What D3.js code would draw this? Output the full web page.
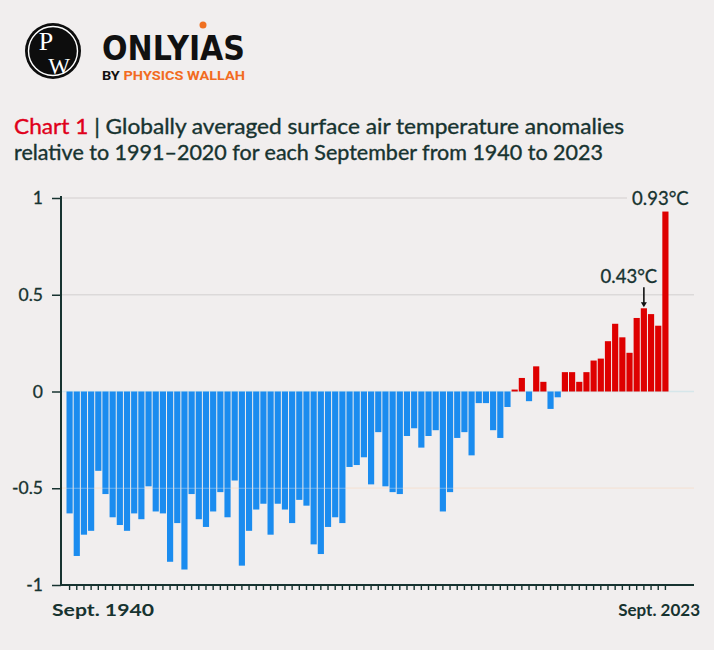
<!DOCTYPE html>
<html><head><meta charset="utf-8">
<script src="https://cdn.jsdelivr.net/npm/d3@7"></script>
<style>html,body{margin:0;padding:0;background:#f1eeee;} svg{display:block;}</style>
</head><body>
<svg id="chart" width="714" height="650"></svg>
<script>
// ---- data ----
const years = [1940,1941,1942,1943,1944,1945,1946,1947,1948,1949,
  1950,1951,1952,1953,1954,1955,1956,1957,1958,1959,
  1960,1961,1962,1963,1964,1965,1966,1967,1968,1969,
  1970,1971,1972,1973,1974,1975,1976,1977,1978,1979,
  1980,1981,1982,1983,1984,1985,1986,1987,1988,1989,
  1990,1991,1992,1993,1994,1995,1996,1997,1998,1999,
  2000,2001,2002,2003,2004,2005,2006,2007,2008,2009,
  2010,2011,2012,2013,2014,2015,2016,2017,2018,2019,
  2020,2021,2022,2023];
const anomalies = [-0.63,-0.85,-0.74,-0.72,-0.41,-0.53,-0.65,-0.69,-0.72,-0.63,
  -0.66,-0.49,-0.62,-0.63,-0.88,-0.68,-0.92,-0.53,-0.66,-0.70,
  -0.62,-0.52,-0.65,-0.46,-0.90,-0.72,-0.61,-0.58,-0.74,-0.58,
  -0.61,-0.68,-0.56,-0.59,-0.79,-0.84,-0.70,-0.65,-0.68,-0.39,
  -0.38,-0.34,-0.48,-0.21,-0.49,-0.52,-0.53,-0.23,-0.19,-0.29,
  -0.23,-0.20,-0.62,-0.52,-0.24,-0.21,-0.33,-0.06,-0.06,-0.20,
  -0.24,-0.08,0.01,0.07,-0.05,0.13,0.05,-0.09,-0.03,0.10,
  0.10,0.05,0.10,0.16,0.17,0.26,0.35,0.28,0.20,0.38,
  0.43,0.40,0.34,0.93];
const yTicks = [1, 0.5, 0, -0.5, -1];
const yTickLabels = ["1", "0.5", "0", "-0.5", "-1"];
const xEndLabels = ["Sept. 1940", "Sept. 2023"];
const annotYears = [2023, 2020];
const annotTexts = ["0.93°C", "0.43°C"];
const titleRed = "Chart 1";
const titleLine1 = "| Globally averaged surface air temperature anomalies";
const titleLine2 = "relative to 1991–2020 for each September from 1940 to 2023";

// ---- drawing ----
(function () {
const data = years.map((yr, i) => ({year: yr, value: anomalies[i]}));
const svg = d3.select("#chart");
const BG = "#f1eeee", INK = "#173330", BLUE = "#1b8cef", RED = "#de0000";
svg.append("rect").attr("width", 714).attr("height", 650).attr("fill", BG);

// logo
const logo = svg.append("g");
logo.append("circle").attr("cx", 53).attr("cy", 51).attr("r", 28).attr("fill", "#0d0d0d");
logo.append("circle").attr("cx", 53).attr("cy", 51).attr("r", 24.5).attr("fill", "none")
  .attr("stroke", "#fff").attr("stroke-width", 1.4);
logo.append("text").attr("x", 46).attr("y", 50).attr("text-anchor", "middle")
  .attr("font-family", "Liberation Serif, DejaVu Serif, serif").attr("font-size", 26)
  .attr("fill", "#fff").text("P");
logo.append("text").attr("x", 59).attr("y", 74).attr("text-anchor", "middle")
  .attr("font-family", "Liberation Serif, DejaVu Serif, serif").attr("font-size", 23)
  .attr("fill", "#fff").text("W");
logo.append("text").attr("x", 102).attr("y", 60)
  .attr("font-family", "DejaVu Sans, sans-serif").attr("font-weight", 700).attr("font-size", 34)
  .attr("textLength", 143).attr("lengthAdjust", "spacingAndGlyphs")
  .attr("fill", "#111").text("ONLYIAS");
logo.append("circle").attr("cx", 203).attr("cy", 25).attr("r", 3.5).attr("fill", "#f07020");
const by = logo.append("text").attr("x", 102).attr("y", 80)
  .attr("font-family", "Roboto, sans-serif").attr("font-weight", 700).attr("font-size", 12)
  .attr("textLength", 143).attr("lengthAdjust", "spacingAndGlyphs");
by.append("tspan").attr("fill", "#111").text("BY ");
by.append("tspan").attr("fill", "#f26b21").text("PHYSICS WALLAH");

// title
const t1 = svg.append("text").attr("x", 14).attr("y", 134)
  .attr("font-family", "Lato, sans-serif").attr("font-size", 20.5)
  .attr("stroke-width", 0.35)
  .attr("textLength", 610).attr("lengthAdjust", "spacingAndGlyphs");
t1.append("tspan").attr("fill", "#e0001b").attr("stroke", "#e0001b").text(titleRed);
t1.append("tspan").attr("fill", INK).attr("stroke", INK).text(" " + titleLine1);
svg.append("text").attr("x", 14).attr("y", 160)
  .attr("font-family", "Lato, sans-serif").attr("font-size", 20.5).attr("fill", INK)
  .attr("stroke", INK).attr("stroke-width", 0.35)
  .attr("textLength", 589).attr("lengthAdjust", "spacingAndGlyphs").text(titleLine2);

// scales
const x = d3.scaleBand().domain(years).range([66, 669]).paddingInner(0.14).paddingOuter(0.07);
const y = d3.scaleLinear().domain([-1, 1]).range([585, 198]);

// gridlines
const gridColor = {"1": "#dcd9d9", "0.5": "#dcd9d9", "0": "#d6e6ea", "-0.5": "#f0ddd2"};
svg.append("g").selectAll("line").data(yTicks.filter(d => d !== -1)).join("line")
  .attr("x1", 62).attr("x2", 694)
  .attr("y1", d => y(d)).attr("y2", d => y(d))
  .attr("stroke", d => gridColor[String(d)]).attr("stroke-width", 1.5);

// bars
svg.append("g").selectAll("rect").data(data).join("rect")
  .attr("x", d => x(d.year))
  .attr("width", x.bandwidth())
  .attr("y", d => y(Math.max(0, d.value)))
  .attr("height", d => Math.abs(y(d.value) - y(0)))
  .attr("fill", d => d.value >= 0 ? RED : BLUE);

// faint gridline through bars at -0.5
svg.append("line").attr("x1", 62).attr("x2", 694).attr("y1", y(-0.5)).attr("y2", y(-0.5))
  .attr("stroke", "rgba(255,255,255,0.35)").attr("stroke-width", 1.2);

// y axis
const yAxis = svg.append("g").attr("transform", "translate(61,0)")
  .call(d3.axisLeft(y).tickValues(yTicks).tickSize(9).tickPadding(9)
    .tickFormat((d, i) => yTickLabels[i]));
yAxis.select(".domain").attr("stroke", INK).attr("stroke-width", 2)
  .attr("d", `M0,${y(1) - 2}V${y(-1)}`);
yAxis.selectAll(".tick line").attr("stroke", INK).attr("stroke-width", 1.5);
yAxis.selectAll(".tick text").attr("font-family", "Lato, sans-serif").attr("font-size", 17.5)
  .attr("fill", INK).attr("stroke", INK).attr("stroke-width", 0.3);

// x axis
const xAxis = svg.append("g").attr("transform", `translate(0,${y(-1)})`)
  .call(d3.axisBottom(x).tickSize(5).tickFormat(""));
xAxis.select(".domain").attr("stroke", INK).attr("stroke-width", 2)
  .attr("d", "M61,0H694");
xAxis.selectAll(".tick line").attr("stroke", INK).attr("stroke-width", 1.4).attr("y1", 1);

svg.append("text").attr("x", 52).attr("y", 616)
  .attr("font-family", "Lato, sans-serif").attr("font-weight", 700).attr("font-size", 17)
  .attr("fill", INK).attr("textLength", 102).attr("lengthAdjust", "spacingAndGlyphs")
  .text(xEndLabels[0]);
svg.append("text").attr("x", 700).attr("y", 616).attr("text-anchor", "end")
  .attr("font-family", "Lato, sans-serif").attr("font-weight", 700).attr("font-size", 17)
  .attr("fill", INK).text(xEndLabels[1]);

// annotations
const peak = data.find(d => d.year === annotYears[0]);
const prev = data.find(d => d.year === annotYears[1]);
const cx0 = x(peak.year) + x.bandwidth() / 2;
const cx1 = x(prev.year) + x.bandwidth() / 2;
svg.append("rect").attr("x", 627).attr("y", 188).attr("width", 70).attr("height", 20).attr("fill", BG);
svg.append("text").attr("x", cx0 - 5).attr("y", y(peak.value) - 7).attr("text-anchor", "middle")
  .attr("font-family", "Lato, sans-serif").attr("font-size", 18.5).attr("fill", INK)
  .attr("stroke", INK).attr("stroke-width", 0.3)
  .text(annotTexts[0]);
svg.append("text").attr("x", cx1 - 15).attr("y", y(prev.value) - 25).attr("text-anchor", "middle")
  .attr("font-family", "Lato, sans-serif").attr("font-size", 18.5).attr("fill", INK)
  .attr("stroke", INK).attr("stroke-width", 0.3)
  .text(annotTexts[1]);
svg.append("line").attr("x1", cx1).attr("x2", cx1)
  .attr("y1", y(prev.value) - 21).attr("y2", y(prev.value) - 5)
  .attr("stroke", "#111").attr("stroke-width", 1.6);
svg.append("path")
  .attr("d", `M${cx1 - 3},${y(prev.value) - 6}L${cx1 + 3},${y(prev.value) - 6}L${cx1},${y(prev.value) - 1}Z`)
  .attr("fill", "#111");
})();
</script>
</body></html>
